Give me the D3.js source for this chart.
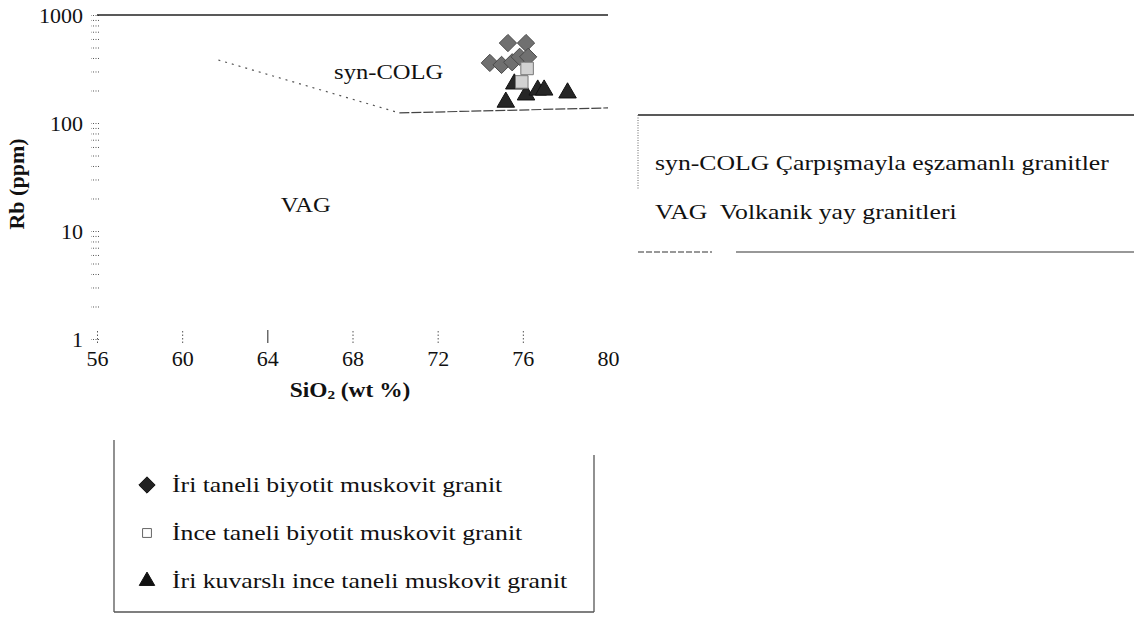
<!DOCTYPE html>
<html>
<head>
<meta charset="utf-8">
<script src="https://cdn.jsdelivr.net/npm/d3@7"></script>
<style>
  html, body { margin: 0; padding: 0; background: #fff; }
  svg { display: block; }
  text { font-family: "Liberation Serif", "Times New Roman", serif; fill: #111; }
</style>
</head>
<body>
<svg id="chart" width="1134" height="633"></svg>
<script>
// ---- data ----
const xTicks = [56, 60, 64, 68, 72, 76, 80];
const yTicks = [1, 10, 100, 1000];

// İri taneli biyotit muskovit granit (diamonds)
const diamondSiO2 = [75.3, 76.15, 74.45, 75.0, 75.5, 75.85, 76.25];
const diamondRb   = [550, 550, 360, 345, 365, 410, 410];
// İnce taneli biyotit muskovit granit (squares)
const squareSiO2 = [76.2, 75.95];
const squareRb   = [320, 240];
// İri kuvarslı ince taneli muskovit granit (triangles)
const triSiO2 = [75.6, 75.2, 76.15, 76.7, 77.0, 78.1];
const triRb   = [230, 156, 182, 202, 202, 190];

// field boundaries
const topBoundarySiO2 = [56, 80];
const topBoundaryRb   = [1000, 1000];
const diagBoundarySiO2 = [61.7, 70.2];
const diagBoundaryRb   = [383, 124];
const flatBoundarySiO2 = [70.2, 80];
const flatBoundaryRb   = [124, 138];

const fieldLabels = ["syn-COLG", "VAG"];
const fieldLabelSiO2 = [69.7, 65.8];
const fieldLabelRb = [285, 16.5];

const legendRightTexts = ["syn-COLG Çarpışmayla eşzamanlı granitler", "VAG  Volkanik yay granitleri"];
const legendBottomTexts = ["İri taneli biyotit muskovit granit", "İnce taneli biyotit muskovit granit", "İri kuvarslı ince taneli muskovit granit"];

// ---- drawing ----
const svg = d3.select("#chart");
const SX = 1.17;
const x = d3.scaleLinear().domain([56, 80]).range([97, 608]);
const y = d3.scaleLog().domain([1, 1000]).range([339, 15]);

// y minor ticks
const yMinor = [];
for (let k = 0; k < 3; k++) for (let m = 1; m < 10; m++) yMinor.push(m * Math.pow(10, k));
yMinor.push(1000);
const gyMinor = svg.append("g").attr("transform", "translate(99,0)")
  .call(d3.axisLeft(y).tickValues(yMinor).tickSize(8).tickFormat(""));
gyMinor.select(".domain").remove();
gyMinor.selectAll("line").attr("stroke", "#555").attr("stroke-dasharray", "1,1.5");

const gyLab = svg.append("g").attr("transform", "translate(99,0)")
  .call(d3.axisLeft(y).tickValues(yTicks).tickSize(0).tickPadding(16).tickFormat(d3.format("d")));
gyLab.select(".domain").remove();
gyLab.selectAll("text").attr("font-size", 22).attr("font-family", "Liberation Serif").attr("fill", "#111");

// x ticks
const gx = svg.append("g").attr("transform", "translate(0,343)")
  .call(d3.axisBottom(x).tickValues(xTicks).tickSize(-13).tickPadding(7).tickFormat(d3.format("d")));
gx.select(".domain").remove();
gx.selectAll("line")
  .attr("stroke", d => d === 64 ? "#222" : "#555")
  .attr("stroke-dasharray", d => d === 64 ? null : "1.5,2")
  .attr("opacity", d => d === 80 ? 0 : 1);
gx.selectAll("text").attr("font-size", 22).attr("font-family", "Liberation Serif").attr("fill", "#111")
  .attr("dy", "0.71em");

// axis titles
const xt = svg.append("text").attr("transform", `translate(350,397) scale(${SX},1)`)
  .attr("text-anchor", "middle").attr("font-size", 20).attr("font-weight", "bold");
xt.append("tspan").text("SiO");
xt.append("tspan").attr("font-size", 13).attr("dy", 2).text("2");
xt.append("tspan").attr("dy", -2).text(" (wt %)");
svg.append("text").attr("transform", "translate(24,184) rotate(-90)")
  .attr("text-anchor", "middle").attr("font-size", 22).attr("font-weight", "bold").text("Rb (ppm)");

// boundaries
const line = d3.line().x(d => x(d[0])).y(d => y(d[1]));
svg.append("path").datum(d3.zip(topBoundarySiO2, topBoundaryRb)).attr("d", line)
  .attr("fill", "none").attr("stroke", "#222").attr("stroke-width", 1.6);
svg.append("path").datum(d3.zip(diagBoundarySiO2, diagBoundaryRb)).attr("d", line)
  .attr("fill", "none").attr("stroke", "#555").attr("stroke-width", 1.2).attr("stroke-dasharray", "2,5");
svg.append("path").datum(d3.zip(flatBoundarySiO2, flatBoundaryRb)).attr("d", line)
  .attr("fill", "none").attr("stroke", "#444").attr("stroke-width", 1.2).attr("stroke-dasharray", "10,2");

// field labels
fieldLabels.forEach((t, i) => {
  svg.append("text").attr("transform", `translate(${x(fieldLabelSiO2[i])},${y(fieldLabelRb[i])}) scale(${SX},1)`)
    .attr("text-anchor", "middle").attr("dominant-baseline", "middle").attr("font-size", 21).text(t);
});

// markers
const diamond = d3.symbol().type(d3.symbolDiamond2).size(190);
const square = d3.symbol().type(d3.symbolSquare2).size(200);
const tri = d3.symbol().type(d3.symbolTriangle2).size(220);

svg.append("g").selectAll("path").data(d3.zip(diamondSiO2, diamondRb)).join("path")
  .attr("d", diamond).attr("transform", d => `translate(${x(d[0])},${y(d[1])})`)
  .attr("fill", "#707070").attr("stroke", "#4a4a4a").attr("stroke-width", 1);
svg.append("g").selectAll("path").data(d3.zip(triSiO2, triRb)).join("path")
  .attr("d", tri).attr("transform", d => `translate(${x(d[0])},${y(d[1])})`)
  .attr("fill", "#262626").attr("stroke", "#111").attr("stroke-width", 1);
svg.append("g").selectAll("path").data(d3.zip(squareSiO2, squareRb)).join("path")
  .attr("d", square).attr("transform", d => `translate(${x(d[0])},${y(d[1])})`)
  .attr("fill", "#d2d2d2").attr("stroke", "#777").attr("stroke-width", 1);

// right legend
const rl = svg.append("g");
rl.append("line").attr("x1", 638).attr("x2", 1134).attr("y1", 115).attr("y2", 115).attr("stroke", "#222").attr("stroke-width", 1.3);
rl.append("line").attr("x1", 638).attr("x2", 638).attr("y1", 115).attr("y2", 190).attr("stroke", "#666").attr("stroke-dasharray", "1,1.5");
rl.append("line").attr("x1", 638).attr("x2", 712).attr("y1", 252).attr("y2", 252).attr("stroke", "#333").attr("stroke-width", 1.2).attr("stroke-dasharray", "6,2");
rl.append("line").attr("x1", 736).attr("x2", 1134).attr("y1", 252).attr("y2", 252).attr("stroke", "#333").attr("stroke-width", 1.2);
legendRightTexts.forEach((t, i) => {
  rl.append("text").attr("transform", `translate(655,${170 + i * 49}) scale(${SX},1)`)
    .attr("font-size", 22).attr("xml:space", "preserve").style("white-space", "pre").text(t);
});

// bottom legend
const bl = svg.append("g");
bl.append("line").attr("x1", 114).attr("x2", 114).attr("y1", 440).attr("y2", 612).attr("stroke", "#555").attr("stroke-width", 1.3);
bl.append("line").attr("x1", 594).attr("x2", 594).attr("y1", 455).attr("y2", 612).attr("stroke", "#555").attr("stroke-width", 1.3);
bl.append("line").attr("x1", 114).attr("x2", 594).attr("y1", 612).attr("y2", 612).attr("stroke", "#555").attr("stroke-width", 1.3);
const legSyms = [
  {sym: d3.symbol().type(d3.symbolDiamond2).size(170), fill: "#222", stroke: "#111"},
  {sym: d3.symbol().type(d3.symbolSquare2).size(100), fill: "#fff", stroke: "#666"},
  {sym: d3.symbol().type(d3.symbolTriangle2).size(170), fill: "#111", stroke: "#111"}
];
legendBottomTexts.forEach((t, i) => {
  const cy = 485 + i * 48;
  bl.append("path").attr("d", legSyms[i].sym).attr("transform", `translate(147,${cy})`)
    .attr("fill", legSyms[i].fill).attr("stroke", legSyms[i].stroke).attr("stroke-width", 1);
  bl.append("text").attr("transform", `translate(172,${cy + 7}) scale(${SX},1)`)
    .attr("font-size", 22).text(t);
});
</script>
</body>
</html>
